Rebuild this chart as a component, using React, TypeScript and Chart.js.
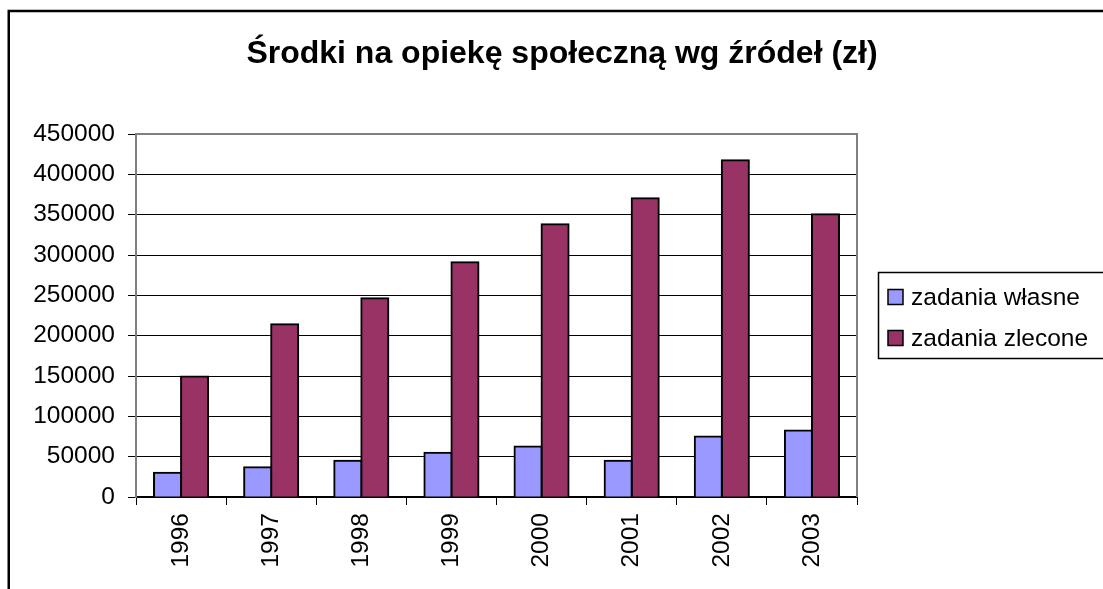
import React, { useEffect, useRef } from "react";
import { Chart, registerables } from "chart.js";

Chart.register(...registerables);

const TITLE = "Środki na opiekę społeczną wg źródeł (zł)";
const years = ["1996", "1997", "1998", "1999", "2000", "2001", "2002", "2003"];
const zadaniaWlasne = [30000, 37000, 45000, 55000, 62500, 45000, 75000, 82500];
const zadaniaZlecone = [149500, 214000, 246500, 291000, 338000, 370500, 417500, 350500];
const seriesLabels = ["zadania własne", "zadania zlecone"];
const seriesColors = ["#9999FF", "#993366"];
const yMin = 0;
const yMax = 450000;
const yStep = 50000;

const FAMILY = "'Liberation Sans', Arial, sans-serif";

const decor = {
  id: "decor",
  beforeDraw(chart: any) {
    const ctx = chart.ctx;
    ctx.save();
    ctx.fillStyle = "#ffffff";
    ctx.fillRect(0, 0, chart.width, chart.height);
    ctx.strokeStyle = "#000000";
    ctx.lineWidth = 2.5;
    ctx.strokeRect(8.75, 11, chart.width + 60, chart.height + 60);
    ctx.font = `bold 32px ${FAMILY}`;
    ctx.fillStyle = "#000000";
    ctx.textAlign = "center";
    ctx.textBaseline = "alphabetic";
    ctx.fillText(TITLE, 562, 63);
    ctx.restore();
  },
  afterDatasetsDraw(chart: any) {
    const { ctx, chartArea: a } = chart;
    ctx.save();
    ctx.strokeStyle = "#808080";
    ctx.lineWidth = 2;
    ctx.beginPath();
    ctx.moveTo(a.left, a.top);
    ctx.lineTo(a.right, a.top);
    ctx.lineTo(a.right, a.bottom);
    ctx.stroke();
    ctx.restore();
  },
  afterDraw(chart: any) {
    const { ctx, chartArea: a } = chart;
    ctx.save();
    const lx = a.right + 21;
    const ly = 272;
    ctx.strokeStyle = "#000000";
    ctx.lineWidth = 1.5;
    ctx.strokeRect(lx + 0.5, ly + 0.5, 400, 86);
    ctx.font = `24.5px ${FAMILY}`;
    ctx.textAlign = "left";
    ctx.textBaseline = "middle";
    chart.data.datasets.forEach((ds: any, i: number) => {
      const cy = ly + 25 + i * 41;
      ctx.fillStyle = ds.backgroundColor;
      ctx.fillRect(lx + 10, cy - 7.5, 15, 15);
      ctx.lineWidth = 1.5;
      ctx.strokeStyle = "#000000";
      ctx.strokeRect(lx + 10, cy - 7.5, 15, 15);
      ctx.fillStyle = "#000000";
      ctx.fillText(ds.label, lx + 33, cy + 1);
    });
    ctx.restore();
  },
};

export default function App() {
  const ref = useRef<HTMLCanvasElement | null>(null);
  useEffect(() => {
    if (!ref.current) return;
    const font = { family: FAMILY, size: 24.5 };
    const chart = new Chart(ref.current, {
      type: "bar",
      data: {
        labels: years,
        datasets: [
          {
            label: seriesLabels[0],
            data: zadaniaWlasne,
            backgroundColor: seriesColors[0],
            borderColor: "#000000",
            borderWidth: 2,
            inflateAmount: 1,
            barPercentage: 1,
            categoryPercentage: 0.6,
          },
          {
            label: seriesLabels[1],
            data: zadaniaZlecone,
            backgroundColor: seriesColors[1],
            borderColor: "#000000",
            borderWidth: 2,
            inflateAmount: 1,
            barPercentage: 1,
            categoryPercentage: 0.6,
          },
        ],
      },
      options: {
        animation: false,
        responsive: false,
        devicePixelRatio: 1,
        layout: { padding: { top: 134, left: 10, right: 246, bottom: 0 } },
        plugins: {
          legend: { display: false },
          title: { display: false },
          tooltip: { enabled: false },
        },
        scales: {
          x: {
            grid: {
              offset: true,
              drawOnChartArea: false,
              drawTicks: true,
              tickLength: 8,
              color: "#000000",
              lineWidth: 1,
            },
            border: { display: true, color: "#000000", width: 1.5 },
            ticks: {
              minRotation: 90,
              maxRotation: 90,
              autoSkip: false,
              padding: 8,
              color: "#000000",
              font,
            },
            afterFit: (s: any) => {
              s.height = 92;
            },
          },
          y: {
            min: yMin,
            max: yMax,
            ticks: {
              stepSize: yStep,
              padding: 13,
              color: "#000000",
              font,
              callback: (v: any) => String(v),
            },
            grid: {
              color: "#000000",
              lineWidth: 1,
              tickLength: 8,
              tickColor: "#000000",
            },
            border: { display: true, color: "#808080", width: 2 },
            afterFit: (s: any) => {
              s.width = 126;
            },
          },
        },
      },
      plugins: [decor],
    } as any);
    return () => chart.destroy();
  }, []);
  return (
    <div style={{ position: "fixed", left: 0, top: 0, width: 1103, height: 589, overflow: "hidden", background: "#fff" }}>
      <canvas ref={ref} width={1103} height={589} style={{ display: "block" }} />
    </div>
  );
}
